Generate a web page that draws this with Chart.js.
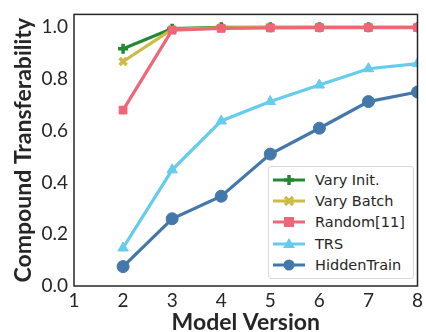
<!DOCTYPE html>
<html><head><meta charset="utf-8">
<script src="https://cdn.jsdelivr.net/npm/chart.js@4"></script>
<style>
html,body{margin:0;padding:0;background:#fff;}
#wrap{position:relative;width:426px;height:332px;}
#legend{position:absolute;left:268px;top:166px;width:144px;background:#fff;border:1px solid #d8d8d8;border-radius:3px;padding:2px 0 2px 0;font-family:"DejaVu Sans",sans-serif;font-size:14.5px;color:#262626;}
.li{display:flex;align-items:center;height:21.4px;}
.li svg{margin-left:4px;margin-right:10px;}
</style>
</head><body>
<div id="wrap"><canvas id="c" width="426" height="332"></canvas><div id="legend"></div></div>
<script>
const versions = [2,3,4,5,6,7,8];
const varyInit = [0.917,0.995,1.0,1.0,1.0,1.0,1.0];
const varyBatch = [0.868,0.992,0.998,1.0,1.0,1.0,1.0];
const random11 = [0.68,0.989,0.996,0.998,0.999,0.999,0.999];
const trs = [0.147,0.449,0.638,0.713,0.777,0.84,0.86];
const hiddenTrain = [0.075,0.26,0.347,0.51,0.61,0.713,0.75];
const seriesNames = ["Vary Init.","Vary Batch","Random[11]","TRS","HiddenTrain"];
const xTicks = [1,2,3,4,5,6,7,8];
const yTicks = [0.0,0.2,0.4,0.6,0.8,1.0];

const colors = ["#228833","#CCBB44","#EE6677","#66CCEE","#4477AA"];
const styles = ["cross","crossRot","rect","triangle","circle"];
const radii = [5,5,5.5,6,6];
const allData = [varyInit,varyBatch,random11,trs,hiddenTrain];

const datasets = allData.map((arr,i)=>({
  label: seriesNames[i],
  data: arr.map((v,j)=>({x:versions[j],y:v})),
  borderColor: colors[i],
  backgroundColor: colors[i],
  pointBackgroundColor: colors[i],
  pointBorderColor: colors[i],
  pointStyle: styles[i],
  pointRadius: radii[i],
  pointBorderWidth: (styles[i]==="cross"||styles[i]==="crossRot")?3.5:1,
  borderWidth: 3.2,
  tension: 0,
  order: 5-i
}));

const frame = {id:'frame',afterDraw(chart){const a=chart.chartArea,ctx=chart.ctx;ctx.save();ctx.strokeStyle='#262626';ctx.lineWidth=1.5;ctx.strokeRect(a.left,a.top,a.right-a.left,a.bottom-a.top);ctx.restore();}};

new Chart(document.getElementById('c'),{
  type:'line',
  data:{datasets},
  options:{
    responsive:false,animation:false,
    layout:{padding:{top:8,right:6,left:0,bottom:0}},
    plugins:{legend:{display:false},tooltip:{enabled:false}},
    scales:{
      x:{type:'linear',min:1,max:8,
        afterBuildTicks(s){s.ticks=xTicks.map(v=>({value:v}));},
        afterFit(s){s.height=46;},
        grid:{display:false,drawTicks:true,tickLength:3,color:'#262626'},
        border:{display:false},
        ticks:{color:'#262626',font:{family:'Lato',size:19},padding:0,callback:v=>String(v)},
        title:{display:true,text:'Model Version',color:'#262626',font:{family:'Lato',size:23,weight:'bold'},padding:{top:0,bottom:-4}}
      },
      y:{min:0,max:1.05,
        afterBuildTicks(s){s.ticks=yTicks.map(v=>({value:v}));},
        afterFit(s){s.width=74;},
        grid:{display:false,drawTicks:true,tickLength:3,color:'#262626'},
        border:{display:false},
        ticks:{color:'#262626',font:{family:'Lato',size:19},padding:3,callback:v=>Number(v).toFixed(1)},
        title:{display:true,text:'Compound Transferability',color:'#262626',font:{family:'Lato',size:23,weight:'bold'},padding:{top:10,bottom:2}}
      }
    }
  },
  plugins:[frame]
});

// HTML legend
const leg=document.getElementById('legend');
function marker(i){
  const c=colors[i],cx=16,cy=8;
  switch(styles[i]){
    case 'cross': return `<path d="M${cx-5} ${cy}H${cx+5}M${cx} ${cy-5}V${cy+5}" stroke="${c}" stroke-width="3.5"/>`;
    case 'crossRot': return `<path d="M${cx-4} ${cy-4}L${cx+4} ${cy+4}M${cx+4} ${cy-4}L${cx-4} ${cy+4}" stroke="${c}" stroke-width="3.5"/>`;
    case 'rect': return `<rect x="${cx-5}" y="${cy-5}" width="10" height="10" fill="${c}"/>`;
    case 'triangle': return `<polygon points="${cx},${cy-6} ${cx+6},${cy+4} ${cx-6},${cy+4}" fill="${c}"/>`;
    default: return `<circle cx="${cx}" cy="${cy}" r="5.5" fill="${c}"/>`;
  }
}
seriesNames.forEach((n,i)=>{
  const d=document.createElement('div');d.className='li';
  d.innerHTML=`<svg width="32" height="16"><line x1="0" y1="8" x2="32" y2="8" stroke="${colors[i]}" stroke-width="3"/>${marker(i)}</svg><span>${n}</span>`;
  leg.appendChild(d);
});
</script>
</body></html>
